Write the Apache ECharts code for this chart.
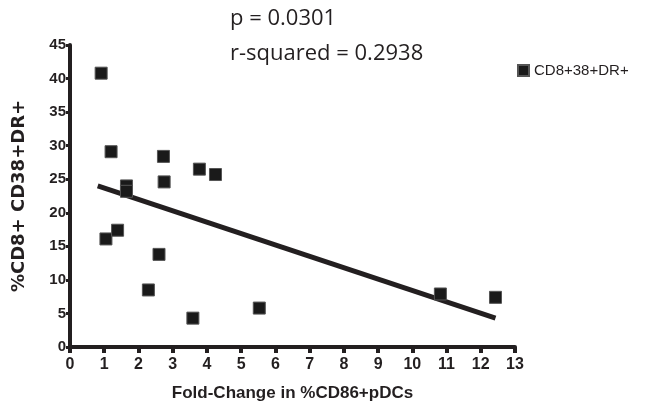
<!DOCTYPE html>
<html style="height: 100%">
<head>
    <meta charset="utf-8">
</head>
<body style="height: 100%; margin: 0; background: #fff">
<div id="container" style="width: 664px; height: 414px"></div>
<script type="text/javascript" src="https://cdn.jsdelivr.net/npm/echarts/dist/echarts.min.js"></script>
<script type="text/javascript">
// fold-change in %CD86+pDCs (x) vs %CD8+CD38+DR+ (y)
var foldChange = [0.91, 1.2, 1.65, 1.65, 2.73, 2.75, 3.78, 4.25, 1.05, 1.39, 2.6, 2.29, 3.59, 5.53, 10.82, 12.43];
var cd8Pct     = [40.8, 29.1, 24.0, 23.2, 28.4, 24.6, 26.5, 25.7, 16.1, 17.4, 13.8, 8.5, 4.3, 5.8, 7.9, 7.4];
// fitted line endpoints
var fitX = [0.81, 12.43];
var fitY = [24.0, 4.3];
var statsText = ['p = 0.0301', 'r-squared = 0.2938'];
var seriesName = 'CD8+38+DR+';

var dom = document.getElementById('container');
var myChart = echarts.init(dom, null, {renderer: 'canvas'});

var pts = foldChange.map(function (x, i) { return [x, cd8Pct[i]]; });
var fit = fitX.map(function (x, i) { return [x, fitY[i]]; });

var axisFont = {fontFamily: 'Liberation Sans', fontWeight: 'bold', color: '#231f20'};
var statsFont = {fontFamily: 'Open Sans', fontWeight: 'normal', fontSize: 22, color: '#231f20'};

option = {
    animation: false,
    grid: {left: 70, right: 149, top: 45, bottom: 67},
    title: [
        {text: statsText[0], left: 225, top: 3, textStyle: statsFont},
        {text: statsText[1], left: 225, top: 38, textStyle: statsFont}
    ],
    legend: {
        data: [seriesName],
        left: 512, top: 58,
        itemWidth: 11, itemHeight: 11, itemGap: 6,
        textStyle: {fontFamily: 'Liberation Sans', fontSize: 15, color: '#231f20'}
    },
    xAxis: {
        type: 'value', min: 0, max: 13, interval: 1,
        name: 'Fold-Change in %CD86+pDCs',
        nameLocation: 'middle', nameGap: 38,
        nameTextStyle: Object.assign({fontSize: 17}, axisFont),
        axisLine: {onZero: false, lineStyle: {color: '#231f20', width: 4}},
        axisTick: {length: 6, lineStyle: {color: '#231f20', width: 4}},
        axisLabel: Object.assign({fontSize: 16, margin: 10}, axisFont),
        splitLine: {show: false}
    },
    yAxis: {
        type: 'value', min: 0, max: 45, interval: 5,
        name: '%CD8+ CD38+DR+',
        nameLocation: 'middle', nameGap: 42,
        nameTextStyle: {fontFamily: 'DejaVu Sans', fontWeight: 'bold', fontSize: 18, color: '#231f20'},
        axisLine: {show: true, onZero: false, lineStyle: {color: '#231f20', width: 4}},
        axisTick: {show: true, length: 4, lineStyle: {color: '#231f20', width: 3}},
        axisLabel: Object.assign({fontSize: 15, margin: 4}, axisFont),
        splitLine: {show: false}
    },
    series: [
        {
            name: seriesName,
            type: 'scatter',
            symbol: 'rect',
            symbolSize: 12,
            itemStyle: {color: '#1a1a1a', borderColor: '#555', borderWidth: 1, opacity: 1},
            data: pts,
            z: 3
        },
        {
            name: 'fit',
            type: 'line',
            symbol: 'none',
            lineStyle: {color: '#231f20', width: 5},
            data: fit,
            z: 2
        }
    ]
};

myChart.setOption(option, true);
</script>
</body>
</html>
